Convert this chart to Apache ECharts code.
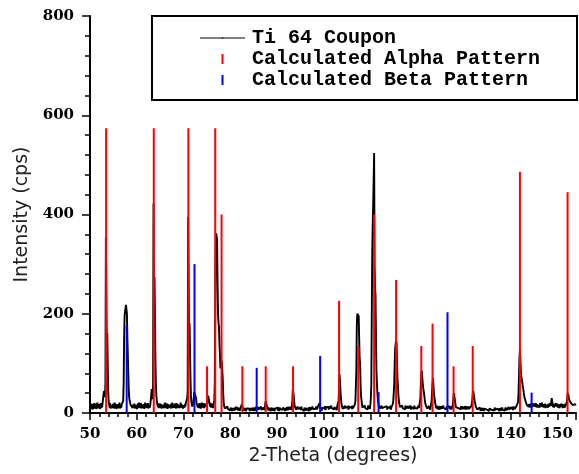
<!DOCTYPE html>
<html>
<head>
<meta charset="utf-8">
<script src="https://cdn.jsdelivr.net/npm/echarts@6/dist/echarts.min.js"></script>
<style>html,body{margin:0;padding:0;background:#fff;}#c{width:579px;height:474px;}</style>
</head>
<body>
<div id="c"></div>
<script>
// Measured scan: 2-theta from 50.0 in steps of 0.1 degree; each row holds one degree (x.0 .. x.9)
const scanStart = 50;
const scanStep = 0.1;
const scanRows = [
 [12,17,8,19,10,16,7,18,11,20],        // 50
 [9,17,12,19,8,15,21,10,16,11],        // 51
 [18,8,15,20,10,17,12,21,22,38],       // 52
 [44,46,32,60,355,240,125,160,100,40], // 53
 [24,17,11,20,9,16,19,10,17,12],       // 54
 [19,9,16,21,11,18,8,17,13,20],        // 55
 [10,18,12,21,9,16,20,11,18,16],       // 56
 [20,24,60,150,195,205,210,218,215,200], // 57
 [150,115,80,45,30,24,20,16,20,13],    // 58
 [18,10,17,21,11,19,9,16,20,12],       // 59
 [17,8,19,11,16,21,10,18,12,20],       // 60
 [9,17,13,20,11,18,8,16,21,11],        // 61
 [19,10,17,12,20,9,16,19,11,17],       // 62
 [20,35,48,40,28,60,422,250,274,200],  // 63
 [110,60,35,24,18,13,20,10,17,12],     // 64
 [19,11,18,9,16,20,12,17,10,19],       // 65
 [13,21,10,17,12,19,8,18,11,16],       // 66
 [20,11,17,9,19,13,21,10,16,18],       // 67
 [11,19,12,17,9,20,13,18,10,16],       // 68
 [19,12,18,10,21,11,17,13,20,9],       // 69
 [16,19,11,18,13,20,24,20,30,45],      // 70
 [395,280,150,181,130,70,35,22,18,13], // 71
 [16,20,30,42,46,44,38,30,20,16],      // 72
 [19,11,17,10,20,13,18,9,16,21],       // 73
 [11,18,13,20,10,17,12,19,21,14],      // 74
 [16,20,30,35,32,24,18,13,20,11],      // 75
 [18,12,19,10,17,20,25,60,200,330],    // 76
 [362,365,350,260,200,180,174,140,120,90], // 77
 [88,95,105,107,70,40,22,14,11,9],     // 78
 [12,6,11,5,13,8,4,12,7,10],           // 79
 [5,11,7,13,4,10,6,12,8,5],            // 80
 [11,6,13,7,4,12,8,5,10,7],            // 81
 [13,5,10,7,14,18,15,10,6,12],         // 82
 [5,10,7,12,4,9,11,6,13,5],            // 83
 [9,12,4,10,6,13,7,5,11,8],            // 84
 [4,11,7,12,5,9,13,6,10,4],            // 85
 [12,7,5,11,8,4,13,6,10,7],            // 86
 [5,11,8,6,12,18,24,28,20,12],         // 87
 [7,12,5,10,13,6,9,4,11,7],            // 88
 [13,5,10,7,12,4,9,11,6,13],           // 89
 [7,11,5,12,8,4,10,13,6,9],            // 90
 [12,6,10,5,11,8,13,4,10,7],           // 91
 [5,12,8,11,6,13,7,10,5,12],           // 92
 [8,6,14,25,48,50,35,22,14,10],        // 93
 [12,7,11,5,13,8,6,12,10,5],           // 94
 [11,6,13,8,5,12,7,10,4,11],           // 95
 [7,12,5,10,13,6,11,8,4,12],           // 96
 [10,5,12,7,11,6,13,8,5,10],           // 97
 [6,12,8,11,5,13,7,10,14,12],          // 98
 [18,20,15,10,7,12,5,11,8,13],         // 99
 [7,13,9,14,6,11,14,8,15,9],           // 100
 [13,7,14,9,13,6,15,10,8,14],          // 101
 [9,14,7,12,15,8,13,10,6,14],          // 102
 [10,15,25,55,78,65,45,30,20,14],      // 103
 [12,8,14,9,13,7,15,10,13,8],          // 104
 [14,9,13,7,15,10,8,14,11,9],          // 105
 [13,8,15,10,7,14,11,18,25,55],        // 106
 [90,180,200,203,200,195,150,110,100,60], // 107
 [35,25,18,11,14,8,13,9,15,10],        // 108
 [13,8,14,10,7,15,11,9,14,8],          // 109
 [18,30,60,200,330,380,420,470,524,300], // 110
 [250,238,150,85,60,40,28,20,15,12],   // 111
 [14,9,13,8,15,10,12,7,14,9],          // 112
 [12,15,8,13,9,14,7,12,15,10],         // 113
 [8,13,10,15,7,12,9,14,18,25],         // 114
 [40,60,100,130,140,146,140,100,70,55], // 115
 [35,25,18,12,9,14,8,12,15,10],        // 116
 [13,8,14,10,7,15,11,9,13,8],          // 117
 [10,14,9,13,8,12,15,7,12,9],          // 118
 [14,9,12,8,15,10,13,7,14,11],         // 119
 [9,13,8,15,10,12,14,30,60,80],        // 120
 [85,82,60,50,45,38,30,22,18,14],      // 121
 [11,15,9,13,8,14,10,12,7,13],         // 122
 [15,25,45,60,70,55,40,32,25,18],      // 123
 [14,10,15,8,13,9,12,7,14,10],         // 124
 [12,8,14,9,13,7,15,10,8,13],          // 125
 [9,14,7,12,10,8,13,9,14,11],          // 126
 [8,13,10,7,14,9,12,22,35,40],         // 127
 [32,25,18,12,9,14,8,12,10,7],         // 128
 [13,9,12,8,14,7,11,13,9,12],          // 129
 [8,12,9,14,7,11,13,8,12,9],           // 130
 [13,8,11,7,12,9,14,11,25,38],         // 131
 [45,42,32,25,20,16,12,8,11,7],        // 132
 [10,6,9,5,11,7,4,10,6,9],             // 133
 [5,10,7,4,9,11,6,5,10,7],             // 134
 [9,5,10,6,4,9,7,11,5,9],              // 135
 [6,10,4,9,7,5,11,6,9,4],              // 136
 [10,6,9,5,11,7,4,10,6,9],             // 137
 [5,9,11,6,8,4,10,8,5,11],             // 138
 [7,11,6,10,5,9,12,7,11,6],            // 139
 [10,7,12,8,11,6,13,9,12,8],           // 140
 [12,9,13,10,14,12,22,40,75,110],      // 141
 [127,105,85,73,70,62,55,50,42,36],    // 142
 [30,27,24,20,18,15,20,13,18,12],      // 143
 [17,11,19,13,10,18,12,20,14,11],      // 144
 [19,13,10,17,20,12,18,11,16,19],      // 145
 [12,18,11,20,13,10,17,21,12,16],      // 146
 [18,11,17,12,19,10,16,20,13,17],      // 147
 [11,19,13,17,10,20,14,22,30,24],      // 148
 [17,12,19,11,18,13,10,20,14,12],      // 149
 [19,11,17,13,20,10,18,12,16,19],      // 150
 [12,18,10,17,13,20,11,19,14,12],      // 151
 [14,25,40,42,35,28,26,24,22,20],      // 152
 [22,18,21,16,20,15,19,14,18,15],      // 153
 [17]                                  // 154
];

// Calculated alpha (hcp Ti) reflections: position (deg) and intensity
const alphaPos = [53.45, 63.65, 71.05, 75.05, 76.8, 78.15, 82.6, 87.6, 93.45, 103.3, 107.4, 110.8, 115.5, 120.9, 123.3, 127.8, 131.9, 142.0, 152.2];
const alphaInt = [574, 574, 574, 94, 574, 400, 94, 94, 94, 226, 135, 400, 268, 135, 180, 94, 135, 486, 445];

// Calculated beta (bcc Ti) reflections
const betaPos = [57.85, 72.36, 85.67, 99.25, 111.75, 126.5, 144.5];
const betaInt = [177, 300, 91, 115, 42, 203, 41];

const xTicks = { min: 50, max: 154, interval: 10 };
const yTicks = { min: 0, max: 800, interval: 200 };

const scanData = [];
scanRows.forEach((row, r) => {
  row.forEach((v, j) => {
    scanData.push([+(scanStart + r + j * scanStep).toFixed(1), v]);
  });
});
const alphaData = alphaPos.map((p, i) => [p, alphaInt[i]]);
const betaData = betaPos.map((p, i) => [p, betaInt[i]]);

const labelFont = { fontFamily: 'DejaVu Serif', fontWeight: 'bold', fontSize: 15, color: '#000' };
const titleFont = { fontFamily: 'DejaVu Sans', fontSize: 19, color: '#222' };

const chart = echarts.init(document.getElementById('c'), null, { renderer: 'canvas' });
chart.setOption({
  animation: false,
  backgroundColor: '#fff',
  grid: { left: 90, right: 0, top: 16, bottom: 61, containLabel: false },
  xAxis: {
    type: 'value', min: xTicks.min, max: xTicks.max, interval: xTicks.interval,
    name: '2-Theta (degrees)', nameLocation: 'middle', nameGap: 30,
    nameTextStyle: titleFont,
    axisLine: { show: true, onZero: false, lineStyle: { color: '#000', width: 2 } },
    axisTick: { show: true, inside: false, length: 7, lineStyle: { color: '#000', width: 1.5 } },
    minorTick: { show: true, splitNumber: 5, length: 4, lineStyle: { color: '#000', width: 1.5 } },
    axisLabel: Object.assign({ margin: 14, formatter: v => (v % 10 === 0 ? String(v) : '') }, labelFont),
    splitLine: { show: false }
  },
  yAxis: {
    type: 'value', min: yTicks.min, max: yTicks.max, interval: yTicks.interval,
    name: 'Intensity (cps)', nameLocation: 'middle', nameGap: 55, nameRotate: 90,
    nameTextStyle: titleFont,
    axisLine: { show: true, lineStyle: { color: '#000', width: 2 } },
    axisTick: { show: true, inside: false, length: 8, lineStyle: { color: '#000', width: 1.5 } },
    minorTick: { show: true, splitNumber: 5, length: 5, lineStyle: { color: '#000', width: 1.5 } },
    axisLabel: Object.assign({ margin: 16 }, labelFont),
    splitLine: { show: false }
  },
  legend: {
    orient: 'vertical', left: 195, top: 23, itemWidth: 45, itemHeight: 10, itemGap: 1,
    symbolKeepAspect: true,
    textStyle: { fontFamily: 'Liberation Mono', fontWeight: 'bold', fontSize: 20, color: '#000', padding: [0, 0, 0, 2] },
    data: [
      { name: 'Ti 64 Coupon', icon: 'path://M0,4.6H45V5.4H0ZM21.8,4.2H23.2V5.8H21.8Z', itemStyle: { color: '#000' } },
      { name: 'Calculated Alpha Pattern', icon: 'path://M0,0H2V10H0Z', itemStyle: { color: '#ff0000' } },
      { name: 'Calculated Beta Pattern', icon: 'path://M0,0H2V10H0Z', itemStyle: { color: '#0000ff' } }
    ]
  },
  graphic: [{
    type: 'rect', shape: { x: 152, y: 16, width: 425, height: 84 },
    style: { fill: 'none', stroke: '#000', lineWidth: 2 }, z: 10
  }],
  series: [
    {
      name: 'Ti 64 Coupon', type: 'line', data: scanData, showSymbol: false, symbol: 'none',
      sampling: null, lineStyle: { color: '#000', width: 1.9 }, itemStyle: { color: '#000' }, z: 2
    },
    {
      name: 'Calculated Alpha Pattern', type: 'bar', data: alphaData, barWidth: 2, barGap: '-100%',
      itemStyle: { color: '#ff0000' }, z: 3
    },
    {
      name: 'Calculated Beta Pattern', type: 'bar', data: betaData, barWidth: 2, barGap: '-100%',
      itemStyle: { color: '#0000ff' }, z: 3
    }
  ]
});
</script>
</body>
</html>
